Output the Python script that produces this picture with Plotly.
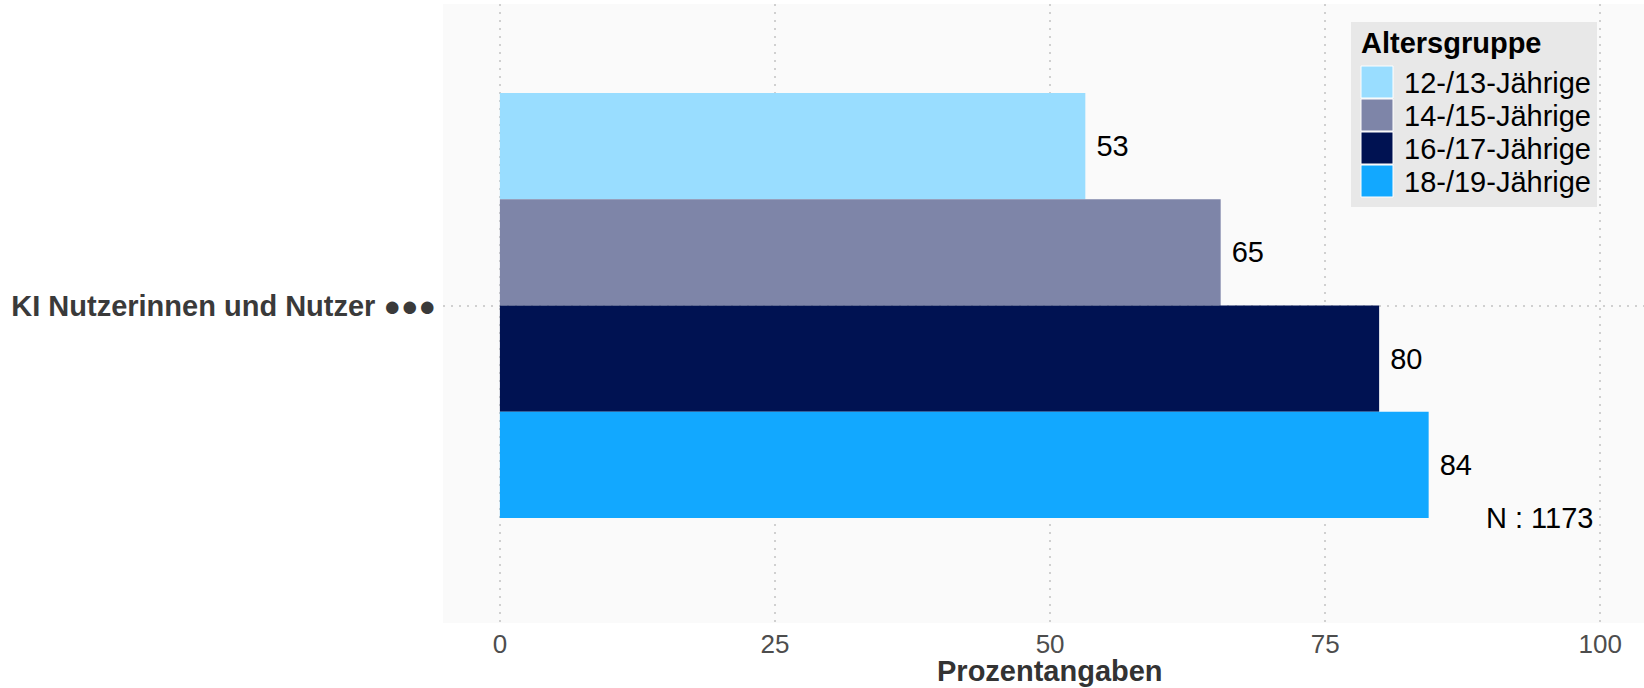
import plotly.graph_objects as go

# ---- data ----
category = ["KI Nutzerinnen und Nutzer ●●●"]
groups = ["12-/13-Jährige", "14-/15-Jährige", "16-/17-Jährige", "18-/19-Jährige"]
values = [53.2, 65.5, 79.9, 84.4]
value_labels = ["53", "65", "80", "84"]
colors = ["#99DDFF", "#7E85A8", "#001252", "#12A8FF"]
x_ticks = [0, 25, 50, 75, 100]
legend_title = "Altersgruppe"
x_title = "Prozentangaben"
n_label = "N : 1173"

FONT = "Liberation Sans, Arial, sans-serif"
W_, H_ = 1644, 688
L, T, R, B = 443, 4, 0, 65
PW, PH = W_ - L - R, H_ - T - B


def px(x):
    return (x - L) / PW


def py(y):
    return 1 - (y - T) / PH


fig = go.Figure()
for g, v, lab, c in zip(groups, values, value_labels, colors):
    fig.add_trace(go.Bar(
        y=category, x=[v], name=g, orientation="h",
        marker=dict(color=c, line=dict(width=0)),
        text=["\u00a0" + lab], textposition="outside",
        textfont=dict(size=29, color="#000000", family=FONT),
        cliponaxis=False, showlegend=False,
    ))

shapes = []
annotations = []

# custom legend box
shapes.append(dict(type="rect", xref="paper", yref="paper",
                   x0=px(1351), x1=px(1597), y0=py(207), y1=py(22),
                   fillcolor="#E8E8E8", line=dict(width=0), layer="above"))
annotations.append(dict(xref="paper", yref="paper", x=px(1359), y=py(43),
                        xanchor="left", yanchor="middle", showarrow=False,
                        text="<b>" + legend_title + "</b>",
                        font=dict(size=29, color="#000000", family=FONT)))
for i, (g, c) in enumerate(zip(groups, colors)):
    top = 66 + i * 33
    shapes.append(dict(type="rect", xref="paper", yref="paper",
                       x0=px(1361), x1=px(1393), y0=py(top + 32), y1=py(top),
                       fillcolor=c, line=dict(width=1, color="#FFFFFF"), layer="above"))
    annotations.append(dict(xref="paper", yref="paper", x=px(1402), y=py(top + 17),
                            xanchor="left", yanchor="middle", showarrow=False,
                            text=g, font=dict(size=29, color="#000000", family=FONT)))

# N annotation
annotations.append(dict(xref="x", yref="y", x=99.5, y=0.4, xanchor="right", yanchor="middle",
                        showarrow=False, text=n_label,
                        font=dict(size=29, color="#000000", family=FONT)))
# x axis title
annotations.append(dict(xref="paper", yref="paper", x=px(1050), y=py(671),
                        xanchor="center", yanchor="middle", showarrow=False,
                        text="<b>" + x_title + "</b>",
                        font=dict(size=29, color="#333333", family=FONT)))

fig.update_layout(
    width=W_, height=H_,
    margin=dict(l=L, r=R, t=T, b=B, pad=0),
    paper_bgcolor="#FFFFFF", plot_bgcolor="#FAFAFA",
    barmode="group", bargap=0.2, bargroupgap=0,
    font=dict(family=FONT),
    shapes=shapes, annotations=annotations,
    showlegend=False,
)
fig.update_xaxes(
    range=[-5.17, 103.97], tickvals=x_ticks, ticktext=[str(t) for t in x_ticks],
    showgrid=True, gridcolor="#D0D0D0", gridwidth=1.5, griddash="2px,6px",
    zeroline=False, showline=False, ticks="", ticklabelstandoff=3,
    tickfont=dict(size=26, color="#4D4D4D", family=FONT),
)
fig.update_yaxes(
    type="category", range=[0.5975, -0.5677],
    showgrid=True, gridcolor="#D0D0D0", gridwidth=1.5, griddash="2px,6px",
    zeroline=False, showline=False, ticks="", ticklabelstandoff=6,
    tickfont=dict(size=29, color="#3A3A3A", family=FONT, weight="bold"),
)

fig.write_html("out.html", config={"displayModeBar": False},
               post_script="document.body.style.margin='0px';")
